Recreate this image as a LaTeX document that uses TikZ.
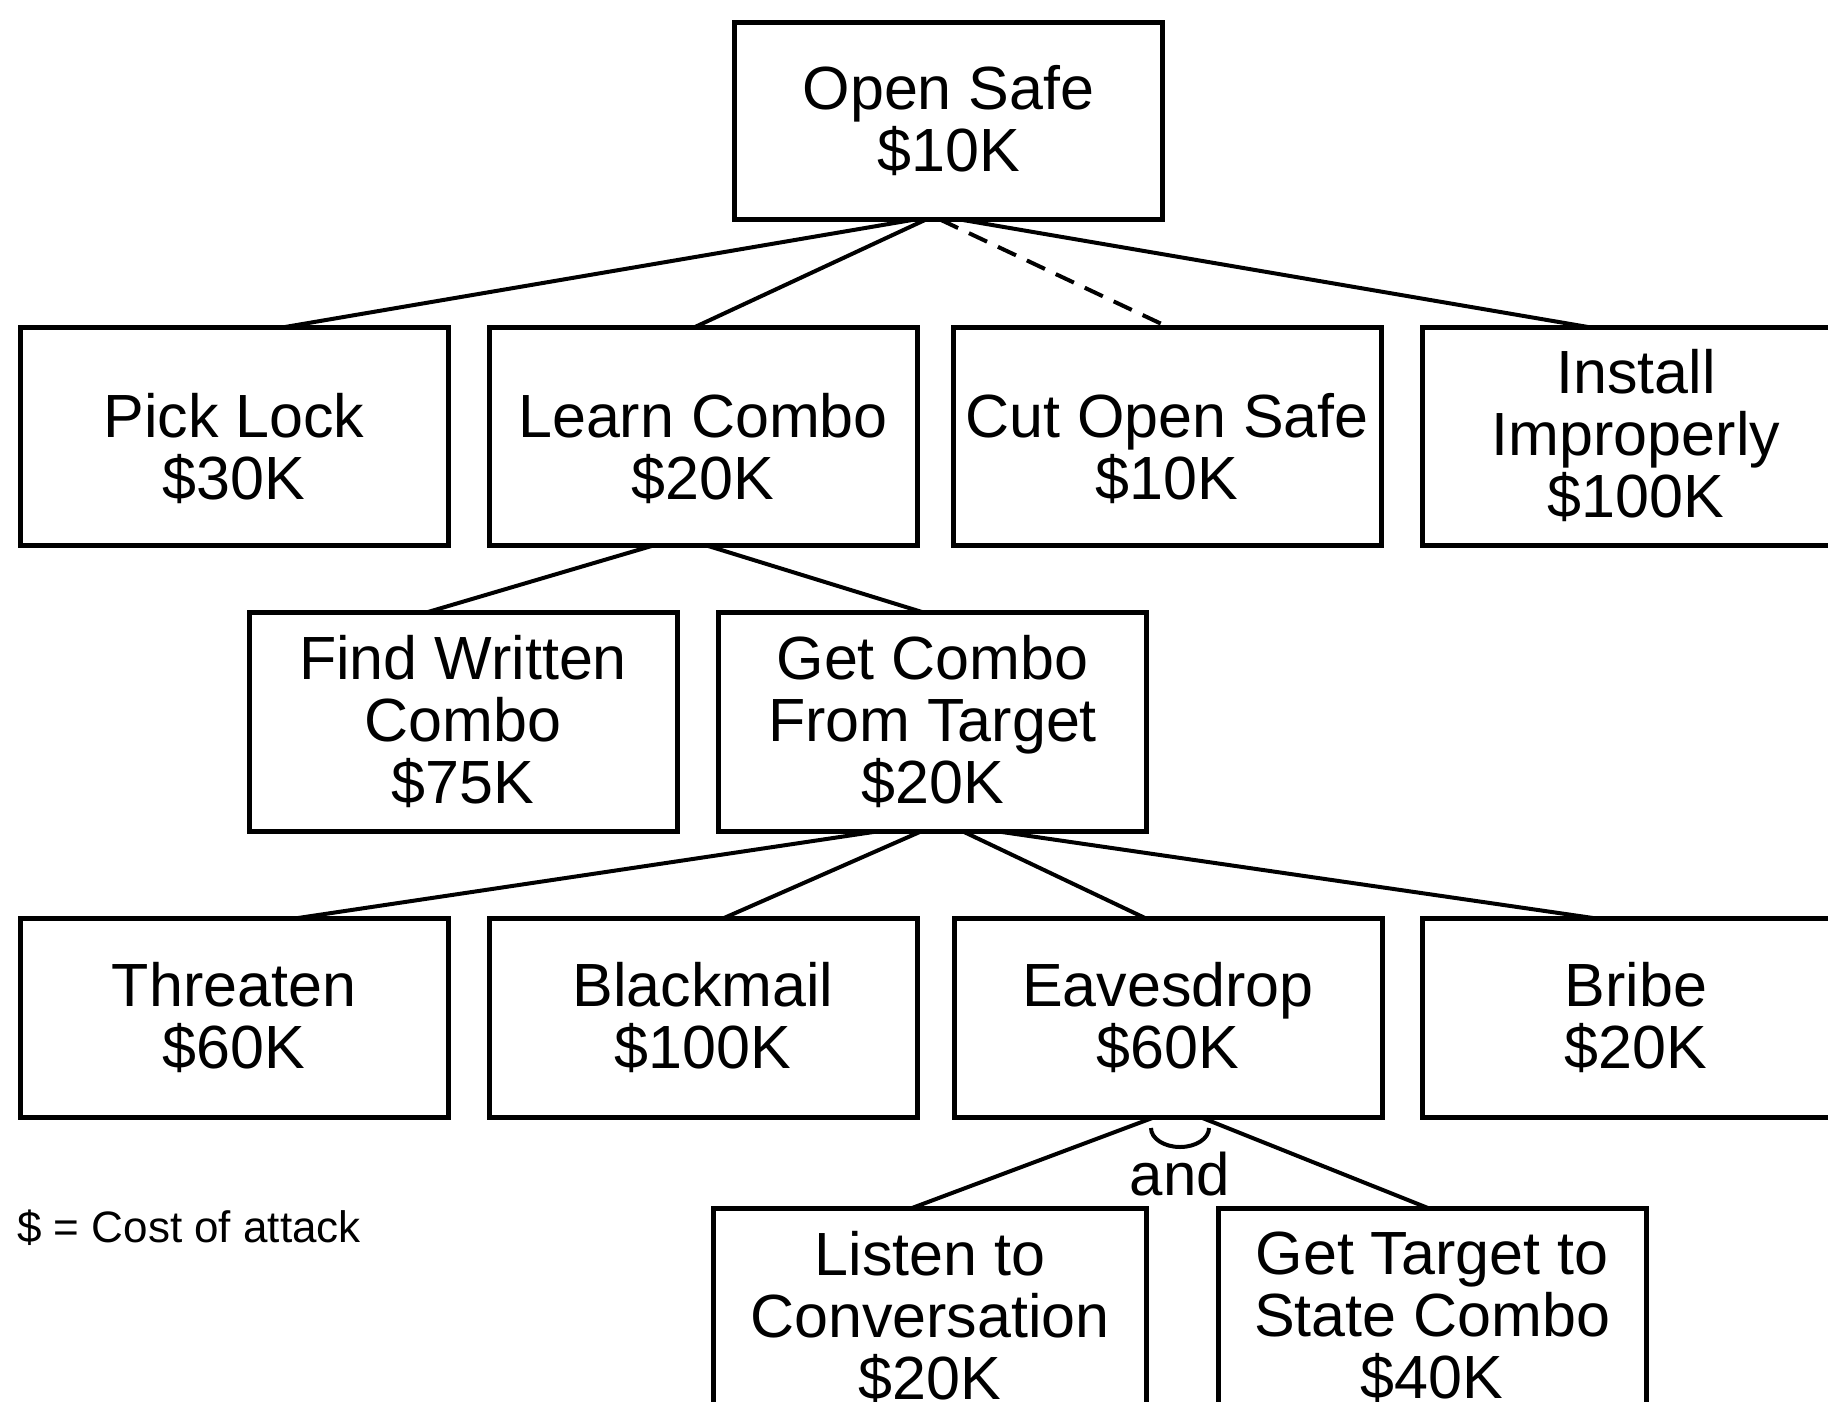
\documentclass[tikz,border=0pt]{standalone}
\usepackage{fontspec}
\setmainfont{Liberation Sans}
\newcommand\boxfont{\fontsize{61pt}{62pt}\selectfont}
\newcommand\andfont{\fontsize{60pt}{62pt}\selectfont}
\newcommand\legfont{\fontsize{44pt}{46pt}\selectfont}
\newcommand\padtop{\rule{0pt}{70pt}}
\begin{document}
\begin{tikzpicture}[x=1pt,y=-1pt,
  box/.style={draw, line width=5pt, inner sep=0pt, outer sep=0pt,
              minimum width=428pt, align=center, font=\boxfont},
  toprow/.style={box, minimum height=197pt},
  rowone/.style={box, minimum height=218pt},
  rowtwo/.style={box, minimum height=219pt},
  rowthree/.style={box, minimum height=199pt},
  rowfour/.style={box, minimum height=219pt},
  conn/.style={line width=4pt},
  dconn/.style={line width=4pt, dash pattern=on 20pt off 12pt},
  andarc/.style={line width=4pt}]
\useasboundingbox (0,0) rectangle (1828,1402);
\clip (0,0) rectangle (1828,1402);
\fill[white] (0,0) rectangle (1828,1402);

% top
\node[toprow] (os) at (948.5,121) {Open Safe\\\$10K};

% row 1
\node[rowone] (pick)  at (234,436)  {\padtop Pick Lock\\\$30K};
\node[rowone] (learn) at (703,436)  {\padtop Learn Combo\\\$20K};
\node[rowone] (cut)   at (1167,436) {\padtop Cut Open Safe\\\$10K};
\node[rowone] (inst)  at (1636,436) {Install\\Improperly\\\$100K};

% row 2
\node[rowtwo] (find) at (463,721.5)   {Find Written\\Combo\\\$75K};
\node[rowtwo] (getc) at (932.5,721.5) {Get Combo\\From Target\\\$20K};

% row 3
\node[rowthree] (thr)   at (234,1017.5)  {Threaten\\\$60K};
\node[rowthree] (bm)    at (703,1017.5)  {Blackmail\\\$100K};
\node[rowthree] (eav)   at (1168,1017.5) {Eavesdrop\\\$60K};
\node[rowthree] (bribe) at (1636,1017.5) {Bribe\\\$20K};

% row 4
\node[rowfour, minimum width=433pt] (listen) at (930,1317.5) {Listen to\\Conversation\\\$20K};
\node[rowfour] (gt) at (1432,1317.5) {Get Target to\\State Combo\\\$40K};

% connectors
\draw[conn]  ([xshift=-33.5pt]os.south) -- ([xshift=51pt]pick.north);
\draw[conn]  ([xshift=-22.5pt]os.south) -- ([xshift=-8pt]learn.north);
\draw[dconn] ([xshift=-8.5pt]os.south)  -- ([xshift=1pt]cut.north);
\draw[conn]  ([xshift=11.5pt]os.south)  -- ([xshift=-48pt]inst.north);

\draw[conn] ([xshift=-48pt]learn.south) -- ([xshift=-35pt]find.north);
\draw[conn] ([xshift=2pt]learn.south)   -- ([xshift=-10.5pt]getc.north);

\draw[conn] ([xshift=-52.5pt]getc.south) -- ([xshift=64pt]thr.north);
\draw[conn] ([xshift=-10.5pt]getc.south) -- ([xshift=21pt]bm.north);
\draw[conn] ([xshift=29.5pt]getc.south)  -- ([xshift=-23pt]eav.north);
\draw[conn] ([xshift=62.5pt]getc.south)  -- ([xshift=-43pt]bribe.north);

\draw[conn] ([xshift=-13pt]eav.south) -- ([xshift=-18pt]listen.north);
\draw[conn] ([xshift=32pt]eav.south)  -- ([xshift=-4pt]gt.north);

% and arc
\draw[andarc] ([shift={(-17,11)}]eav.south) arc[start angle=180, end angle=0, x radius=29, y radius=19];
\node[font=\andfont, anchor=base, inner sep=0pt] (andlbl) at (1180,1195) {and};

% legend
\node[font=\legfont, anchor=base west, inner sep=0pt] (legend) at (17,1242) {\$ = Cost of attack};
\end{tikzpicture}
\end{document}
